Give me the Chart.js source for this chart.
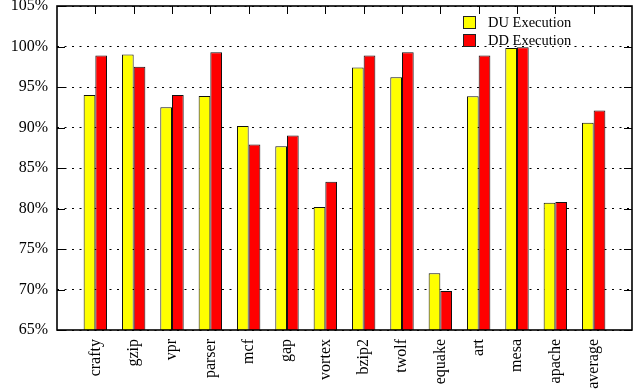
<!DOCTYPE html>
<html>
<head>
<meta charset="utf-8">
<script src="https://cdn.jsdelivr.net/npm/chart.js@4.4.1/dist/chart.umd.min.js"></script>
<style>
  html, body { margin: 0; padding: 0; background: #fff; }
  #wrap { width: 634px; height: 391px; }
</style>
</head>
<body>
<div id="wrap"><canvas id="c" width="634" height="391"></canvas></div>
<script>
// Benchmarks on the x axis
const benchmarks = ['crafty', 'gzip', 'vpr', 'parser', 'mcf', 'gap', 'vortex',
                    'bzip2', 'twolf', 'equake', 'art', 'mesa', 'apache', 'average'];

// Share of execution per benchmark (%)
const duExecution = [94.0, 99.0, 92.5, 93.9, 90.2, 87.7, 80.2, 97.4, 96.2, 72.0, 93.85, 99.8, 80.7, 90.6];
const ddExecution = [98.9, 97.5, 94.0, 99.3, 87.9, 89.0, 83.3, 98.9, 99.3, 69.8, 98.9, 99.9, 80.8, 92.1];

// Y axis range and step (%)
const yMin = 65;
const yMax = 105;
const yStep = 5;

const serif = 'Liberation Serif, Times New Roman, serif';

// Frame, inward tick marks and the boxed legend inside the plot
const framePlugin = {
  id: 'frame',
  afterDraw(chart) {
    const { ctx, chartArea: a, scales: { x, y } } = chart;
    ctx.save();
    ctx.strokeStyle = '#000';
    ctx.lineWidth = 1;
    ctx.beginPath();
    x.ticks.forEach(t => {
      const px = Math.round(x.getPixelForValue(t.value)) + 0.5;
      ctx.moveTo(px, a.top);
      ctx.lineTo(px, a.top + 8);
    });
    y.ticks.forEach(t => {
      const py = Math.round(y.getPixelForValue(t.value)) + 0.5;
      ctx.moveTo(a.left, py);
      ctx.lineTo(a.left + 8, py);
      ctx.moveTo(a.right, py);
      ctx.lineTo(a.right - 8, py);
    });
    ctx.stroke();

    ctx.lineWidth = 1.6;
    ctx.strokeRect(a.left, a.top, a.right - a.left, a.bottom - a.top);

    // legend
    const lx = a.right - 169;
    const ly = a.top + 10;
    ctx.font = '14.5px ' + serif;
    ctx.textBaseline = 'middle';
    ctx.textAlign = 'left';
    chart.data.datasets.forEach((ds, i) => {
      const by = ly + i * 18;
      ctx.fillStyle = ds.backgroundColor;
      ctx.fillRect(lx, by, 13, 13);
      ctx.lineWidth = 1;
      ctx.strokeStyle = '#222';
      ctx.strokeRect(lx + 0.5, by + 0.5, 12, 12);
      ctx.fillStyle = '#000';
      ctx.fillText(ds.label, lx + 25, by + 7);
    });
    ctx.restore();
  }
};

new Chart(document.getElementById('c'), {
  type: 'bar',
  data: {
    datasets: [
      {
        label: 'DU Execution',
        data: duExecution.map((v, i) => ({ x: i, y: v })),
        backgroundColor: '#ffff00',
        borderColor: '#111',
        borderWidth: 1,
        barPercentage: 1.0,
        categoryPercentage: 0.61
      },
      {
        label: 'DD Execution',
        data: ddExecution.map((v, i) => ({ x: i, y: v })),
        backgroundColor: '#ff0000',
        borderColor: '#111',
        borderWidth: 1,
        barPercentage: 1.0,
        categoryPercentage: 0.61
      }
    ]
  },
  options: {
    responsive: false,
    animation: false,
    devicePixelRatio: 1,
    layout: { padding: { top: 6, right: 2, bottom: 0, left: 0 } },
    plugins: {
      legend: { display: false },
      tooltip: { enabled: false }
    },
    scales: {
      x: {
        type: 'linear',
        offset: false,
        min: -1,
        max: benchmarks.length,
        afterBuildTicks: s => { s.ticks = benchmarks.map((_, i) => ({ value: i })); },
        afterFit: s => {
          s.height = 61;
          s.paddingLeft = 0;
          s.paddingRight = 0;
        },
        grid: { display: false, drawTicks: false },
        border: { display: false },
        ticks: {
          autoSkip: false,
          maxRotation: 90,
          minRotation: 90,
          padding: 9,
          color: '#000',
          font: { family: serif, size: 16 },
          callback: v => benchmarks[v]
        }
      },
      y: {
        min: yMin,
        max: yMax,
        afterFit: s => {
          s.width = 57;
          s.paddingTop = 0;
          s.paddingBottom = 0;
        },
        grid: { color: '#000', lineWidth: 1, drawTicks: false },
        border: { display: false, dash: [2, 5.5] },
        ticks: {
          stepSize: yStep,
          padding: 9,
          color: '#000',
          font: { family: serif, size: 16 },
          callback: v => v + '%'
        }
      }
    }
  },
  plugins: [framePlugin]
});
</script>
</body>
</html>
